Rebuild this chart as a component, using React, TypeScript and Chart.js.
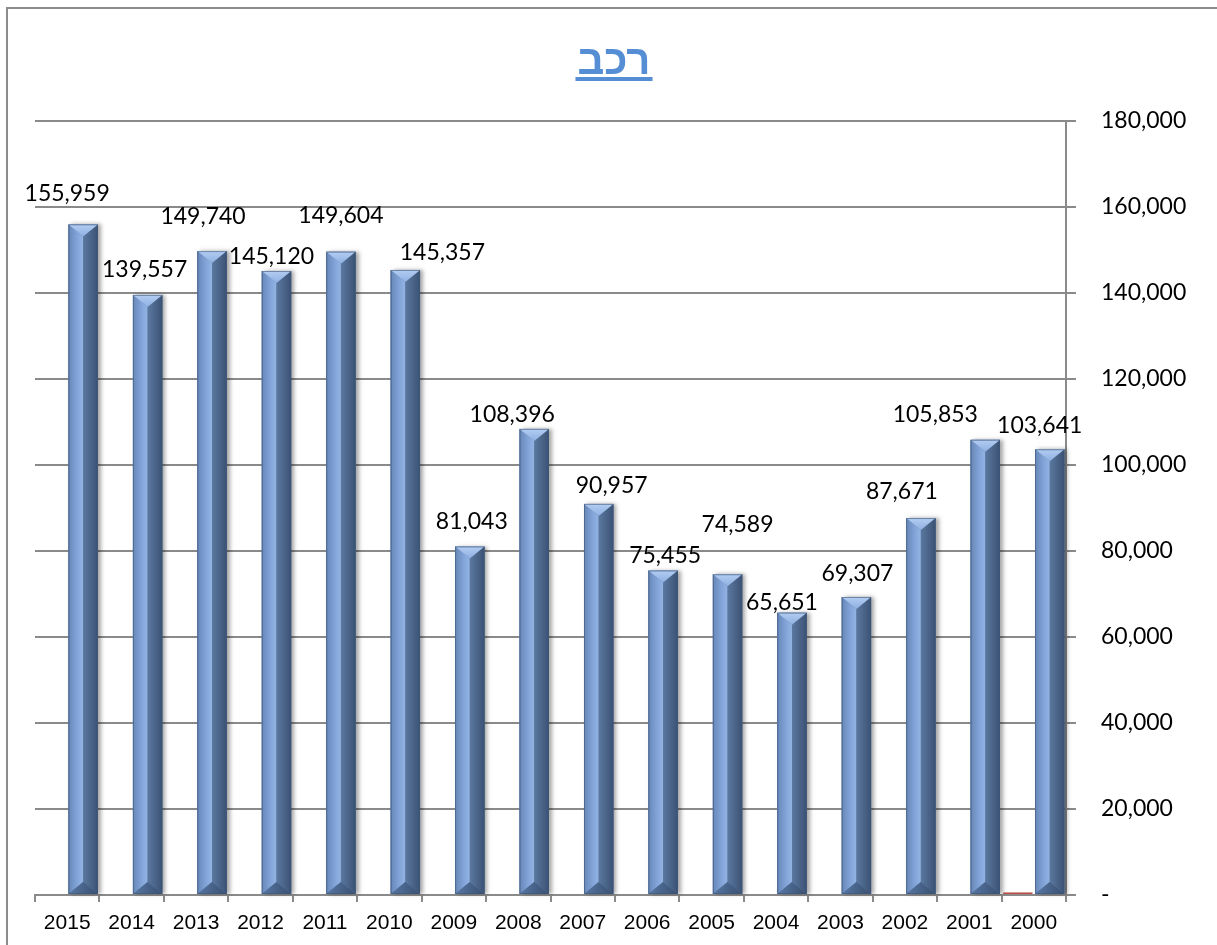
import React, { useEffect, useRef } from "react";
import { Chart, registerables } from "chart.js";

Chart.register(...registerables);

const years = ["2015", "2014", "2013", "2012", "2011", "2010", "2009", "2008", "2007", "2006", "2005", "2004", "2003", "2002", "2001", "2000"];
const vehicleValues = [155959, 139557, 149740, 145120, 149604, 145357, 81043, 108396, 90957, 75455, 74589, 65651, 69307, 87671, 105853, 103641];
const otherValues = [0, 0, 0, 0, 0, 0, 0, 0, 0, 0, 0, 0, 0, 0, 0, 600];
const yTickMax = 180000;
const yTickStep = 20000;
const titleText = "רכב";

// label placement tweaks (px) relative to bar top: [dx, rise]
const labelNudges: [number, number][] = [
  [-16, 31], [-3, 25], [-9, 35], [-5, 14], [0, 36], [37, 17], [2, 25], [-22, 14],
  [13, 18], [2, 15], [10, 50], [-10, 10], [1, 23], [-19, 26], [-50, 25], [-10, 24],
];

const fmt = (v: number) => (v === 0 ? "-" : v.toLocaleString("en-US"));

function poly(ctx: CanvasRenderingContext2D, pts: number[], fill: string | CanvasGradient) {
  ctx.beginPath();
  ctx.moveTo(pts[0], pts[1]);
  for (let i = 2; i < pts.length; i += 2) ctx.lineTo(pts[i], pts[i + 1]);
  ctx.closePath();
  ctx.fillStyle = fill;
  ctx.fill();
}

function drawBevelBar(ctx: CanvasRenderingContext2D, x: number, top: number, bottom: number, w: number) {
  const l = x - w / 2;
  const r = x + w / 2;
  const h = Math.min(12, (bottom - top) / 2);
  ctx.save();
  ctx.shadowColor = "rgba(0,0,0,0.35)";
  ctx.shadowBlur = 4;
  ctx.shadowOffsetX = 3;
  ctx.fillStyle = "#5d7aa3";
  ctx.fillRect(l, top, w, bottom - top);
  ctx.restore();

  let g = ctx.createLinearGradient(l, 0, x, 0);
  g.addColorStop(0, "#6787b8");
  g.addColorStop(0.6, "#82a4d8");
  g.addColorStop(1, "#93b4e4");
  poly(ctx, [l, top, x, top + h, x, bottom - h, l, bottom], g);

  g = ctx.createLinearGradient(x, 0, r, 0);
  g.addColorStop(0, "#5b789f");
  g.addColorStop(1, "#3b5274");
  poly(ctx, [x, top + h, r, top, r, bottom, x, bottom - h], g);

  g = ctx.createLinearGradient(0, top, 0, top + h);
  g.addColorStop(0, "#b3cdf2");
  g.addColorStop(1, "#8fb0e2");
  poly(ctx, [l, top, r, top, x, top + h], g);

  g = ctx.createLinearGradient(l, 0, r, 0);
  g.addColorStop(0, "#5677a4");
  g.addColorStop(1, "#3a4f6f");
  poly(ctx, [l, bottom, r, bottom, x, bottom - h], g);

  ctx.strokeStyle = "rgba(60,85,120,0.6)";
  ctx.lineWidth = 1;
  ctx.strokeRect(l + 0.5, top + 0.5, w - 1, bottom - top - 1);
}

const decorPlugin = {
  id: "decor",
  afterDatasetsDraw(chart: any) {
    const ctx: CanvasRenderingContext2D = chart.ctx;
    const meta = chart.getDatasetMeta(1);
    meta.data.forEach((el: any) => {
      drawBevelBar(ctx, el.x, el.y, el.base, el.width);
    });
    ctx.save();
    ctx.font = "23px Lato";
    ctx.fillStyle = "#000";
    ctx.textAlign = "center";
    ctx.textBaseline = "middle";
    meta.data.forEach((el: any, i: number) => {
      const [dx, rise] = labelNudges[i] || [0, 20];
      ctx.fillText(fmt(vehicleValues[i]), el.x + dx, el.y - rise);
    });
    ctx.restore();
  },
  afterDraw(chart: any) {
    const ctx: CanvasRenderingContext2D = chart.ctx;
    ctx.save();
    ctx.strokeStyle = "#8c8c8c";
    ctx.lineWidth = 2;
    ctx.strokeRect(7, 8, chart.width + 10, chart.height + 10);
    ctx.font = "bold 42px 'Liberation Sans'";
    ctx.fillStyle = "#558ed5";
    ctx.textAlign = "center";
    ctx.textBaseline = "alphabetic";
    const cx = 614;
    ctx.fillText(titleText, cx, 74);
    const tw = ctx.measureText(titleText).width;
    ctx.fillRect(cx - tw / 2 - 2, 77, tw + 4, 4);
    ctx.restore();
  },
};

export default function App() {
  const ref = useRef<HTMLCanvasElement | null>(null);
  useEffect(() => {
    if (!ref.current) return;
    const chart = new Chart(ref.current, {
      type: "bar",
      data: {
        labels: years,
        datasets: [
          {
            label: "other",
            data: otherValues,
            backgroundColor: "#c0504d",
            categoryPercentage: 0.99,
            barPercentage: 0.92,
          },
          {
            label: "רכב",
            data: vehicleValues,
            backgroundColor: "#5d7aa3",
            categoryPercentage: 0.99,
            barPercentage: 0.92,
          },
        ],
      },
      options: {
        responsive: false,
        animation: false,
        layout: { padding: { left: 35, top: 121, right: 0, bottom: 0 } },
        plugins: {
          legend: { display: false },
          title: { display: false },
          tooltip: { enabled: false },
        },
        scales: {
          x: {
            grid: {
              drawOnChartArea: false,
              drawTicks: true,
              tickLength: 7,
              color: "#8a8a8a",
              lineWidth: 2,
            },
            border: { display: true, color: "#8a8a8a", width: 2 },
            ticks: {
              font: { family: "'Liberation Sans'", size: 21 },
              color: "#000",
              padding: 9,
              maxRotation: 0,
              autoSkip: false,
            },
            afterFit: (s: any) => {
              s.height = 50;
            },
          },
          y: {
            position: "right",
            min: 0,
            max: yTickMax,
            grid: { color: "#8a8a8a", lineWidth: 2, tickLength: 10 },
            border: { display: true, color: "#8a8a8a", width: 2 },
            ticks: {
              stepSize: yTickStep,
              font: { family: "Lato", size: 23 },
              color: "#000",
              padding: 25,
              callback: (v: any) => fmt(Number(v)),
            },
            afterFit: (s: any) => {
              s.width = 151;
            },
          },
        },
      },
      plugins: [decorPlugin],
    });
    return () => chart.destroy();
  }, []);
  return (
    <div style={{ position: "absolute", left: 0, top: 0, width: 1217, height: 945, background: "#fff" }}>
      <canvas ref={ref} width={1217} height={945} style={{ width: 1217, height: 945, display: "block" }} />
    </div>
  );
}
